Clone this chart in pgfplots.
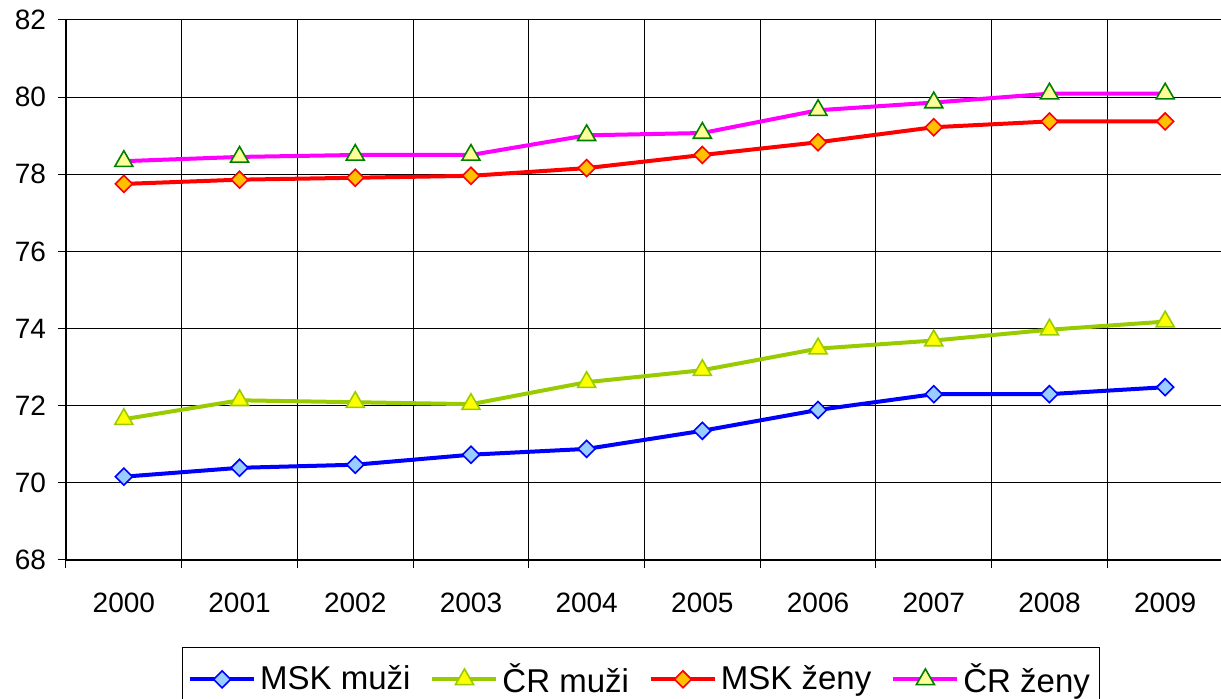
\documentclass[border=0pt]{standalone}
\usepackage{fontspec}
\setmainfont{Liberation Sans}
\usepackage{pgfplots}
\pgfplotsset{compat=1.18}

\definecolor{mskmline}{RGB}{0,0,255}
\definecolor{mskmfill}{RGB}{153,204,255}
\definecolor{crmline}{RGB}{153,204,0}
\definecolor{crmfill}{RGB}{255,255,0}
\definecolor{mskzline}{RGB}{255,0,0}
\definecolor{mskzfill}{RGB}{255,192,0}
\definecolor{crzline}{RGB}{255,0,255}
\definecolor{crzfill}{RGB}{255,255,153}
\definecolor{crzmark}{RGB}{0,128,0}

\begin{document}
\begin{tikzpicture}
\useasboundingbox (-33pt,-69.5pt) rectangle (577.5pt,280pt);
\begin{axis}[
  scale only axis, width=578.5pt, height=270pt,
  xmin=-0.5, xmax=9.5, ymin=68, ymax=82,
  xtick={-0.5,0.5,...,9.5}, x tick label as interval,
  xticklabels={2000,2001,2002,2003,2004,2005,2006,2007,2008,2009},
  ytick={68,70,...,82},
  axis lines=left, axis line style={-, black, line width=0.6pt},
  xmajorgrids, ymajorgrids,
  grid style={black, line width=0.5pt},
  tick align=outside, major tick length=4pt,
  tick style={black, line width=0.5pt},
  ticklabel style={font=\fontsize{14}{17}\selectfont},
  yticklabel style={xshift=-2.5pt},
  xticklabel style={yshift=-9pt},
  /pgf/number format/assume math mode=true,
  legend columns=4,
  legend style={at={(0.497,-0.161)}, anchor=north, draw=black, line width=0.5pt,
    font=\fontsize{16.5}{20}\selectfont, inner xsep=3pt, inner ysep=6pt,
    /tikz/every even column/.append style={column sep=8pt}},
  legend image code/.code={\draw[mark repeat=2,mark phase=2] plot coordinates {(0pt,0pt)(16pt,0pt)(32pt,0pt)};},
]
\addplot[mskmline, line width=2pt, mark=square*, mark size=3pt,
  mark options={rotate=45, draw=mskmline, fill=mskmfill, line width=0.8pt}]
  coordinates {(0,70.16) (1,70.39) (2,70.47) (3,70.73) (4,70.88) (5,71.35) (6,71.89) (7,72.30) (8,72.30) (9,72.48)};
\addlegendentry{MSK muži}
\addplot[crmline, line width=2pt, mark=triangle*, mark size=5.2pt,
  mark options={draw=crmline, fill=crmfill, line width=0.8pt}]
  coordinates {(0,71.65) (1,72.14) (2,72.09) (3,72.04) (4,72.61) (5,72.92) (6,73.48) (7,73.69) (8,73.97) (9,74.18)};
\addlegendentry{ČR muži}
\addplot[mskzline, line width=2pt, mark=square*, mark size=3pt,
  mark options={rotate=45, draw=mskzline, fill=mskzfill, line width=0.8pt}]
  coordinates {(0,77.75) (1,77.86) (2,77.91) (3,77.96) (4,78.16) (5,78.50) (6,78.83) (7,79.22) (8,79.37) (9,79.37)};
\addlegendentry{MSK ženy}
\addplot[crzline, line width=2pt, mark=triangle*, mark size=5.2pt,
  mark options={draw=crzmark, fill=crzfill, line width=0.8pt}]
  coordinates {(0,78.34) (1,78.45) (2,78.50) (3,78.50) (4,79.01) (5,79.07) (6,79.66) (7,79.86) (8,80.09) (9,80.09)};
\addlegendentry{ČR ženy}
\end{axis}
\end{tikzpicture}
\end{document}
